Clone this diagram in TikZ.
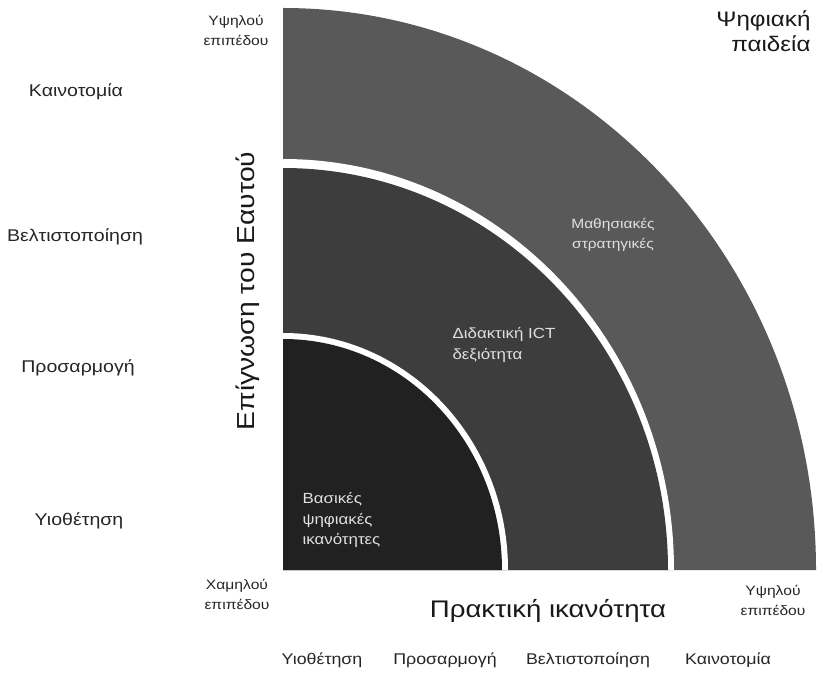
\documentclass[tikz,border=0pt]{standalone}
\usepackage{fontspec}
\setmainfont{Liberation Sans}[FakeStretch=1.15]
\begin{document}
\begin{tikzpicture}[x=1pt,y=1pt,
  sidelbl/.style={font=\fontsize{17}{20}\selectfont, text=black!85},
  baselbl/.style={font=\fontsize{15.5}{18}\selectfont, text=black!85},
  endlbl/.style={font=\fontsize{13.6}{20}\selectfont, text=black!85, align=center},
  bandlbl/.style={font=\fontsize{14.7}{20.5}\selectfont, text=black!12, align=left},
  titlelbl/.style={font=\fontsize{21}{25}\selectfont, text=black!90},
  axistitle/.style={font=\fontsize{24}{28}\selectfont, text=black!90}]
\useasboundingbox (0,0) rectangle (824,689);
\fill[white] (0,0) rectangle (824,689);
\coordinate (C) at (283,119);
% quarter ellipses, drawn from the outside in
\fill[black!65] (C) -- ++(533,0) arc[start angle=0,end angle=90,x radius=533,y radius=562] -- cycle;
\fill[white] (C) -- ++(391,0) arc[start angle=0,end angle=90,x radius=391,y radius=411] -- cycle;
\fill[black!76] (C) -- ++(385,0) arc[start angle=0,end angle=90,x radius=385,y radius=402] -- cycle;
\fill[white] (C) -- ++(225,0) arc[start angle=0,end angle=90,x radius=225,y radius=237] -- cycle;
\fill[black!87] (C) -- ++(219,0) arc[start angle=0,end angle=90,x radius=219,y radius=231] -- cycle;

% band labels
\node[bandlbl, anchor=west] (basic) at (299,169) {Βασικές\\ψηφιακές\\ικανότητες};
\node[bandlbl, anchor=west] (ict) at (449,344) {Διδακτική ICT\\δεξιότητα};
\node[bandlbl, align=center, font=\fontsize{13.5}{20.5}\selectfont] (learn) at (613,454) {Μαθησιακές\\στρατηγικές};

% corner labels
\node[titlelbl, align=right, anchor=north east] (title) at (814,682) {Ψηφιακή\\παιδεία};
\node[endlbl] (ytop) at (236,659) {Υψηλού\\επιπέδου};
\node[endlbl] (ylow) at (237,95) {Χαμηλού\\επιπέδου};
\node[endlbl] (xhigh) at (773,89) {Υψηλού\\επιπέδου};

% axis titles
\node[axistitle] (xaxis) at (548,78) {Πρακτική ικανότητα};
\node[axistitle, font=\fontsize{24.6}{28}\selectfont, rotate=90] (yaxis) at (248,398) {Επίγνωση του Εαυτού};

% level scales
\node[sidelbl] (l1) at (79,168) {Υιοθέτηση};
\node[sidelbl] (l2) at (78,321) {Προσαρμογή};
\node[sidelbl] (l3) at (75,452) {Βελτιστοποίηση};
\node[sidelbl] (l4) at (76,597) {Καινοτομία};
\node[baselbl] (b1) at (322,29) {Υιοθέτηση};
\node[baselbl] (b2) at (445,29) {Προσαρμογή};
\node[baselbl] (b3) at (588,29) {Βελτιστοποίηση};
\node[baselbl] (b4) at (728,29) {Καινοτομία};
\end{tikzpicture}
\end{document}
